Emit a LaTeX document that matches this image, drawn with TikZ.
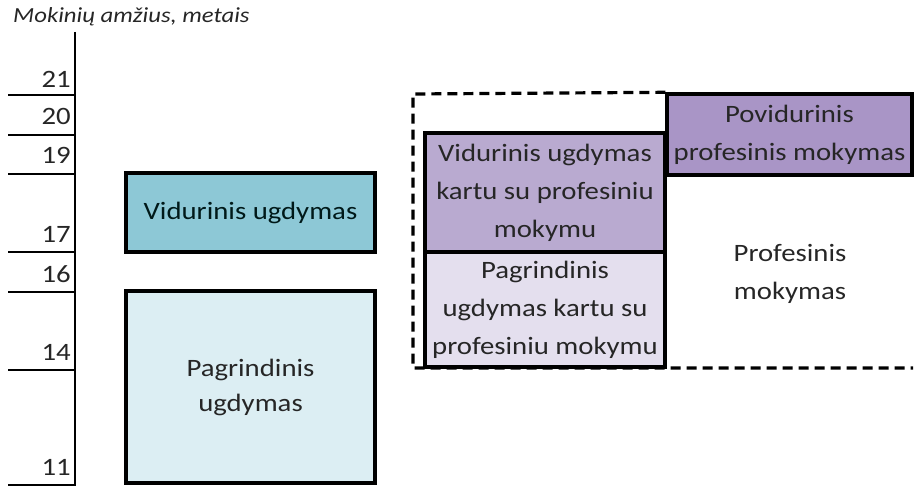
\documentclass[tikz,border=0pt]{standalone}
\usepackage{fontspec}
\setmainfont[FakeStretch=1.15]{Carlito}
\begin{document}
\begin{tikzpicture}[x=1pt,y=-1pt,
  box/.style={draw=black,line width=3.4pt,align=center,inner sep=0pt,
    font=\fontsize{25}{38}\selectfont,text=txt},
  num/.style={anchor=east,inner sep=0pt,font=\fontsize{25}{30}\selectfont,text=txt},
  tick/.style={line width=1.3pt,black},
  frame/.style={line width=3.2pt,dash pattern=on 10pt off 6pt}]
\definecolor{txt}{HTML}{262626}
\definecolor{vid}{HTML}{8DC8D6}
\definecolor{pag}{HTML}{DCEEF3}
\definecolor{vk}{HTML}{B9AAD0}
\definecolor{pov}{HTML}{A995C6}
\definecolor{pk}{HTML}{E4DFEE}
\useasboundingbox (0,0) rectangle (916,486);
% title
\node[anchor=west,inner sep=0pt,font=\fontsize{21.5}{24}\selectfont\itshape,text=txt] (title) at (13,17) {Mokinių amžius, metais};
% axis
\coordinate (atop) at (75,32);
\coordinate (abot) at (75,486);
\draw[tick] (atop) -- (abot);
\foreach \yy in {95,135,174,252,292,370,485}{
  \draw[tick] (8,\yy) -- (75,\yy);
}
\node[num] (n21) at (71,79) {21};
\node[num] (n20) at (71,116) {20};
\node[num] (n19) at (71,155) {19};
\node[num] (n17) at (71,234) {17};
\node[num] (n16) at (71,274) {16};
\node[num] (n14) at (71,352) {14};
\node[num] (n11) at (71,467) {11};
% left boxes
\node[box,fill=vid,minimum width=249pt,minimum height=79pt,text=black!80!teal] (vu) at (250.5,212.5) {Vidurinis ugdymas};
\node[box,fill=pag,minimum width=249pt,minimum height=192pt,font=\fontsize{25}{35}\selectfont] (pu) at (250.5,387) {Pagrindinis\\ugdymas};
% right boxes
\node[box,fill=vk,minimum width=240pt,minimum height=119pt] (vk) at (545,192.5) {Vidurinis ugdymas\\kartu su profesiniu\\mokymu};
\node[box,fill=pk,minimum width=240pt,minimum height=115pt] (pk) at (545,309.5) {Pagrindinis\\ugdymas kartu su\\profesiniu mokymu};
\node[box,fill=pov,minimum width=245pt,minimum height=81pt] (pov) at (789.5,134.5) {Povidurinis\\profesinis mokymas};
\node[box,draw=none] (prof) at (790,274) {Profesinis\\mokymas};
% dashed frame
\coordinate (f1) at (413,94);
\coordinate (f2) at (413,368);
\coordinate (f3) at (913,368);
\draw[frame] (pov.north west) -- (f1) -- (f2) -- (f3);
\end{tikzpicture}
\end{document}
